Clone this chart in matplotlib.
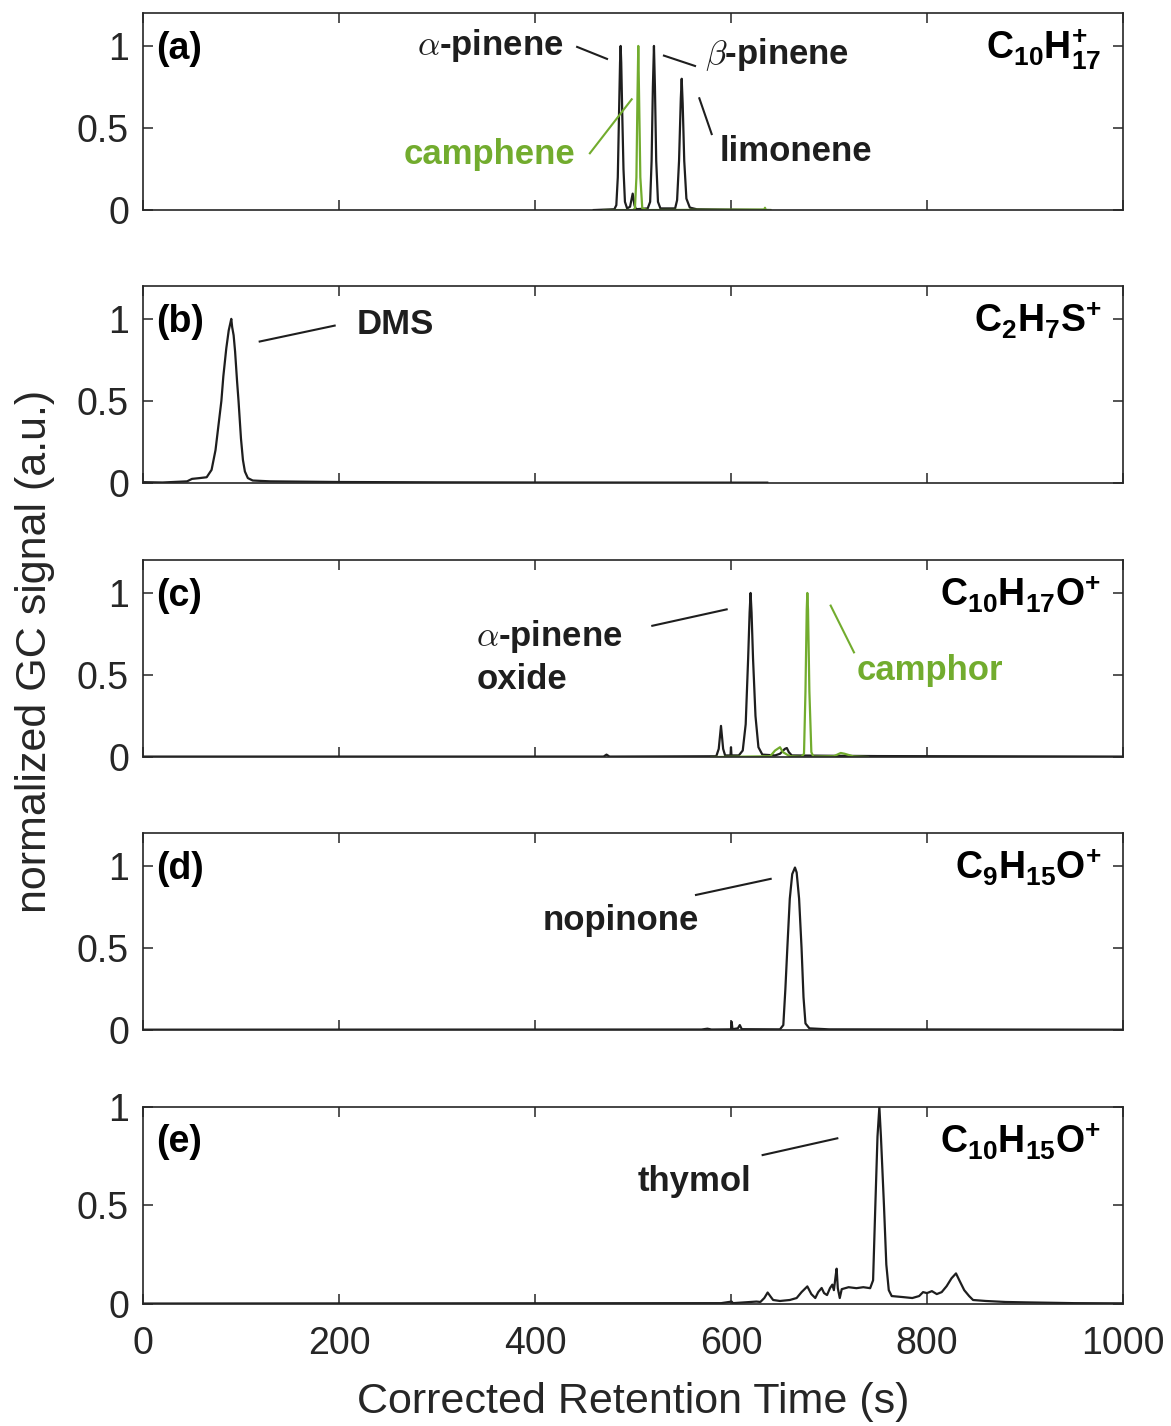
import numpy as np
import matplotlib.pyplot as plt

plt.rcParams["font.family"] = "Liberation Sans"
plt.rcParams["mathtext.fontset"] = "custom"
plt.rcParams["mathtext.rm"] = "Liberation Sans"
plt.rcParams["mathtext.bf"] = "Liberation Sans:bold"
plt.rcParams["mathtext.it"] = "Liberation Sans:italic"

CZARNY = "#1e1e1e"
ZIELONY = "#72ac2e"
OS = "#262626"

# ---------------- dane (czas [s], sygnał znormalizowany) ----------------
# (a) C10H17+
a_czarny_t = [460, 481, 483, 484.5, 485.8, 486.8, 487.4, 488, 489, 490.3, 491.8, 494, 497, 499.7, 501.5, 503,
              515, 517.5, 519, 520.3, 521.4, 522.4, 523.7, 525.5, 528, 543, 545, 547, 548.8, 549.7, 550.7, 552.3,
              554.5, 558, 565, 640]
a_czarny_y = [0, 0.005, 0.03, 0.2, 0.6, 0.9, 1.0, 0.9, 0.6, 0.25, 0.05, 0.01, 0.02, 0.10, 0.03, 0.005,
              0.01, 0.05, 0.3, 0.75, 1.0, 0.75, 0.3, 0.05, 0.01, 0.01, 0.06, 0.3, 0.68, 0.80, 0.65, 0.3,
              0.07, 0.015, 0.005, 0]
a_zielony_t = [470, 500, 502, 503.5, 504.6, 505.4, 506.2, 507.5, 509.5, 515, 634, 634.7, 635.5, 640]
a_zielony_y = [0, 0, 0.01, 0.2, 0.7, 1.0, 0.7, 0.2, 0.01, 0, 0.003, 0.014, 0, 0]

# (b) C2H7S+
b_czarny_t = [0, 20, 45, 50, 58, 65, 70, 74, 78, 80, 82, 85, 87.5, 89, 90.1, 91, 92.5, 94, 96, 97.5, 100,
              102, 104, 107, 112, 130, 200, 300, 400, 637]
b_czarny_y = [0.005, 0.003, 0.01, 0.025, 0.03, 0.035, 0.08, 0.2, 0.4, 0.5, 0.65, 0.82, 0.93, 0.97, 1.0, 0.95,
              0.9, 0.8, 0.62, 0.5, 0.27, 0.14, 0.07, 0.03, 0.015, 0.01, 0.006, 0.004, 0.003, 0.002]

# (c) C10H17O+
c_czarny_t = [0, 470, 473, 476, 585, 587.5, 589.8, 592, 594, 599.5, 600, 600.5, 608, 612, 615, 617.5, 619,
              620, 621, 622.5, 625, 628, 632, 645, 650, 655, 657, 659, 662, 700, 750, 1000]
c_czarny_y = [0.003, 0.003, 0.015, 0.003, 0.005, 0.05, 0.19, 0.05, 0.01, 0.01, 0.06, 0.01, 0.01, 0.04, 0.2,
              0.6, 0.88, 1.0, 0.88, 0.6, 0.25, 0.06, 0.015, 0.01, 0.02, 0.05, 0.055, 0.03, 0.01, 0.008, 0.006,
              0.003]
c_zielony_t = [580, 640, 645, 650, 653, 660, 672, 674.5, 676, 677.3, 677.9, 678.6, 680, 682, 684, 705, 712,
               716, 725, 740]
c_zielony_y = [0, 0.005, 0.04, 0.06, 0.03, 0.005, 0.002, 0.02, 0.4, 0.9, 1.0, 0.9, 0.4, 0.03, 0.003, 0.005,
               0.025, 0.02, 0.004, 0]

# (d) C9H15O+
d_czarny_t = [0, 570, 576, 580, 600, 600.7, 601.5, 607, 609, 611, 650, 653.4, 655.5, 657.5, 660, 662.5,
              665.3, 667, 669.5, 672, 674, 676, 680, 700, 1000]
d_czarny_y = [0.002, 0.003, 0.008, 0.003, 0.004, 0.05, 0.005, 0.01, 0.03, 0.005, 0.004, 0.03, 0.25, 0.5,
              0.8, 0.95, 0.99, 0.96, 0.8, 0.5, 0.2, 0.04, 0.01, 0.004, 0.002]

# (e) C10H15O+
e_czarny_t = [0, 590, 600.7, 602, 626, 630, 634, 637.4, 640, 643, 650, 660, 667, 672, 677.9, 682, 686, 689,
              692.5, 695, 698, 701, 703.4, 705, 707, 707.8, 709, 711, 713, 720, 728, 735, 742, 745, 747.3,
              749.5, 751.4, 753, 756.1, 758.5, 761, 764, 775, 785, 792, 796, 800, 805, 810, 815, 820, 825,
              829.6, 833, 838, 843, 847, 860, 880, 900, 950, 1000]
e_czarny_y = [0.002, 0.004, 0.012, 0.004, 0.012, 0.01, 0.03, 0.058, 0.04, 0.02, 0.015, 0.02, 0.03, 0.06,
              0.089, 0.05, 0.03, 0.06, 0.081, 0.055, 0.045, 0.08, 0.098, 0.07, 0.15, 0.179, 0.08, 0.03, 0.075,
              0.085, 0.08, 0.085, 0.08, 0.12, 0.5, 0.85, 1.0, 0.85, 0.5, 0.2, 0.07, 0.04, 0.035, 0.03, 0.04,
              0.06, 0.055, 0.065, 0.05, 0.06, 0.09, 0.13, 0.155, 0.12, 0.07, 0.04, 0.02, 0.015, 0.01, 0.008,
              0.004, 0.003]

panele = ["(a)", "(b)", "(c)", "(d)", "(e)"]
wzory = [r"$\mathbf{C_{10}H_{17}^{+}}$", r"$\mathbf{C_{2}H_{7}S^{+}}$", r"$\mathbf{C_{10}H_{17}O^{+}}$",
         r"$\mathbf{C_{9}H_{15}O^{+}}$", r"$\mathbf{C_{10}H_{15}O^{+}}$"]
gorne_y = [1.2, 1.2, 1.2, 1.2, 1.0]

# opisy pików: (panel, tekst, kolor, x, y, ha, linia x0, y0, x1, y1)
opisy = [
    (0, r"$\alpha$-pinene", CZARNY, 354, 1.0, "center", 443, 0.994, 473.5, 0.921),
    (0, "camphene", ZIELONY, 354, 0.34, "center", 456, 0.346, 498.7, 0.675),
    (0, r"$\beta$-pinene", CZARNY, 647, 0.945, "center", 531.6, 0.941, 563.3, 0.878),
    (0, "limonene", CZARNY, 666, 0.354, "center", 567.7, 0.681, 580.3, 0.463),
    (1, "DMS", CZARNY, 257, 0.963, "center", 119.1, 0.862, 195.6, 0.959),
    (2, "$\\alpha$-pinene\noxide", CZARNY, 340, 0.61, "left", 519.7, 0.80, 595.6, 0.90),
    (2, "camphor", ZIELONY, 803, 0.53, "center", 701.7, 0.923, 725.5, 0.638),
    (3, "nopinone", CZARNY, 488, 0.665, "center", 564.3, 0.823, 640.5, 0.921),
    (4, "thymol", CZARNY, 563, 0.624, "center", 632.3, 0.756, 708.5, 0.841),
]

# ---------------- rysowanie ----------------
fig = plt.figure(figsize=(11.71, 14.26), dpi=100)
dolne = [0.8527, 0.6613, 0.4691, 0.2777, 0.0856]
axes = [fig.add_axes([0.1221, b, 0.8369, 0.1381]) for b in dolne]

slady = [
    [(a_czarny_t, a_czarny_y, CZARNY), (a_zielony_t, a_zielony_y, ZIELONY)],
    [(b_czarny_t, b_czarny_y, CZARNY)],
    [(c_czarny_t, c_czarny_y, CZARNY), (c_zielony_t, c_zielony_y, ZIELONY)],
    [(d_czarny_t, d_czarny_y, CZARNY)],
    [(e_czarny_t, e_czarny_y, CZARNY)],
]

for i, ax in enumerate(axes):
    for t, y, kol in slady[i]:
        ax.plot(t, y, color=kol, lw=1.6)
    ax.set_xlim(0, 1000)
    ax.set_ylim(0, gorne_y[i])
    ax.set_xticks(np.arange(0, 1001, 200))
    ax.set_yticks([0, 0.5, 1])
    ax.set_yticklabels(["0", "0.5", "1"])
    ax.tick_params(direction="in", top=True, right=True, length=7, width=1.1, colors=OS,
                   labelsize=27, labelbottom=(i == 4))
    ax.tick_params(axis="x", pad=16)
    ax.tick_params(axis="y", pad=10)
    for s in ax.spines.values():
        s.set_color(OS)
        s.set_linewidth(1.2)
    ax.text(0.013, 0.82, panele[i], transform=ax.transAxes, fontsize=27, fontweight="bold",
            ha="left", va="center", color="black")
    ax.text(0.978, 0.765, wzory[i], transform=ax.transAxes, fontsize=27, ha="right", va="baseline",
            color="black", math_fontfamily="custom")

for p, tekst, kol, x, y, ha, x0, y0, x1, y1 in opisy:
    ax = axes[p]
    ax.text(x, y, tekst, color=kol, fontsize=25, fontweight="bold", ha=ha, va="center",
            math_fontfamily="cm", linespacing=1.3)
    ax.plot([x0, x1], [y0, y1], color=kol, lw=1.5)

fig.text(0.030, 0.543, "normalized GC signal (a.u.)", rotation=90, ha="center", va="center",
         fontsize=31, color=OS)
fig.text(0.5405, 0.0165, "Corrected Retention Time (s)", ha="center", va="center", fontsize=31, color=OS)

fig.savefig("out.png", dpi=100)
